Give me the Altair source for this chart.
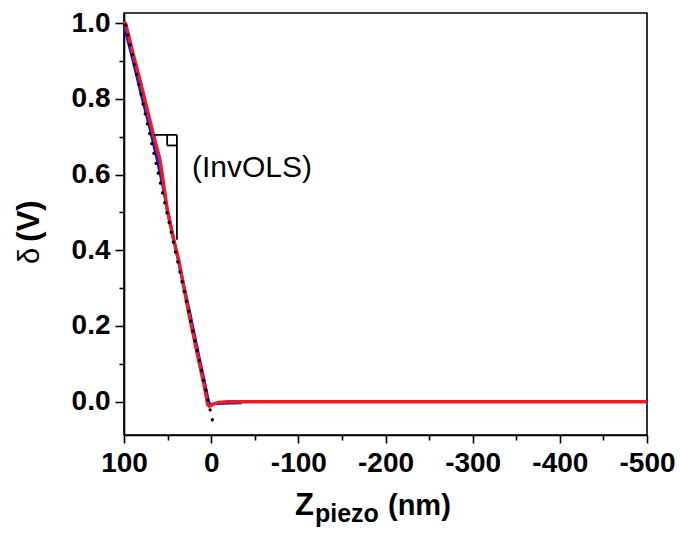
import altair as alt
import pandas as pd

# ---- data ----
red_x = [100, 98, 89, 81, 73.5, 66, 59, 56, 50.5, 43, 37, 31.5, 24, 16, 8.5, 4, 2, -3, -8, -20,
         -50, -100, -150, -200, -250, -300, -350, -400, -450, -500]
red_y = [1.005, 0.998, 0.914, 0.844, 0.774, 0.703, 0.642, 0.598, 0.508, 0.426, 0.373, 0.303, 0.215,
         0.127, 0.048, -0.008, -0.012, -0.006, -0.002, 0.0,
         0.0, 0.0, 0.0, 0.0, 0.0, 0.0, 0.0, 0.0, 0.0, 0.0]

blue_x = [100, 90, 80, 70, 62, 55, 50, 43, 35, 25, 15, 8, 3, 1, -5, -15, -35]
blue_y = [0.995, 0.905, 0.81, 0.72, 0.64, 0.565, 0.505, 0.43, 0.345, 0.24, 0.13, 0.055, 0.0,
          -0.008, -0.005, -0.004, -0.003]

fit_x = [98, -3.7]
fit_y = [0.995, -0.073]

# annotation triangle segments (x, y, x2, y2)
tri_x = [66, 39.3, 50.5, 50.5]
tri_y = [0.705, 0.705, 0.705, 0.677]
tri_x2 = [39.3, 39.3, 50.5, 39.3]
tri_y2 = [0.705, 0.428, 0.677, 0.677]

note_text = ["(InvOLS)"]
note_x = [22]
note_y = [0.617]

x_ticks = [100, 50, 0, -50, -100, -150, -200, -250, -300, -350, -400, -450, -500]
y_ticks = [0.0, 0.1, 0.2, 0.3, 0.4, 0.5, 0.6, 0.7, 0.8, 0.9, 1.0]

W, H = 523, 422
FONT = "Liberation Sans"

red = pd.DataFrame({"x": red_x, "y": red_y})
blue = pd.DataFrame({"x": blue_x, "y": blue_y})
fit = pd.DataFrame({"x": fit_x, "y": fit_y})
tri = pd.DataFrame({"x": tri_x, "y": tri_y, "x2": tri_x2, "y2": tri_y2})
note = pd.DataFrame({"x": note_x, "y": note_y, "t": note_text})
one = pd.DataFrame({"a": [0]})

xscale = alt.Scale(domain=[-500, 100], reverse=True, nice=False, zero=False)
yscale = alt.Scale(domain=[-0.088, 1.027], nice=False, zero=False)

xaxis = alt.Axis(
    values=x_ticks, title=None, grid=False,
    labelExpr="datum.value % 100 === 0 ? '' + datum.value : ''",
    tickSize={"condition": {"test": "datum.value % 100 === 0", "value": 8}, "value": 5},
    labelFont=FONT, labelFontWeight="bold", labelFontSize=28, labelColor="black",
    labelPadding=6, labelFlush=False, labelOverlap=False,
    domainColor="black", domainWidth=1.6, tickColor="black", tickWidth=1.6,
)
yaxis = alt.Axis(
    values=y_ticks, title=None, grid=False,
    labelExpr="round(datum.value * 10) % 2 === 0 ? format(datum.value, '.1f') : ''",
    tickSize={"condition": {"test": "round(datum.value * 10) % 2 === 0", "value": 9}, "value": 5},
    labelFont=FONT, labelFontWeight="bold", labelFontSize=28, labelColor="black",
    labelPadding=5, labelOverlap=False,
    domainColor="black", domainWidth=1.6, tickColor="black", tickWidth=1.6,
)

X = alt.X("x:Q", scale=xscale, axis=xaxis)
Y = alt.Y("y:Q", scale=yscale, axis=yaxis)

blue_line = alt.Chart(blue).mark_line(color="#1414e6", strokeWidth=3).encode(x=X, y=Y)
red_line = alt.Chart(red).mark_line(color="#ec1c24", strokeWidth=3.4).encode(x="x:Q", y="y:Q")
fit_line = alt.Chart(fit).mark_line(
    color="black", strokeWidth=3.2, strokeDash=[0.1, 10], strokeCap="round"
).encode(x="x:Q", y="y:Q")

tri_rules = alt.Chart(tri).mark_rule(color="black", strokeWidth=1.8).encode(
    x="x:Q", y="y:Q", x2="x2:Q", y2="y2:Q"
)
note_txt = alt.Chart(note).mark_text(
    font=FONT, fontSize=30, align="left", baseline="middle", color="black"
).encode(x="x:Q", y="y:Q", text="t:N")

# axis titles (with subscript / mixed weight)
z_t = alt.Chart(one).mark_text(text="Z", font=FONT, fontWeight="bold", fontSize=31,
                               align="left", baseline="alphabetic", color="black").encode(
    x=alt.value(171), y=alt.value(502))
sub_t = alt.Chart(one).mark_text(text="piezo", font=FONT, fontWeight="bold", fontSize=25,
                                 align="left", baseline="alphabetic", color="black").encode(
    x=alt.value(191), y=alt.value(509))
nm_t = alt.Chart(one).mark_text(text="(nm)", font=FONT, fontWeight="bold", fontSize=29,
                                align="left", baseline="alphabetic", color="black").encode(
    x=alt.value(264), y=alt.value(502))
delta_t = alt.Chart(one).mark_text(text="δ", font=FONT, fontSize=29, angle=270,
                                   align="center", baseline="middle", color="black").encode(
    x=alt.value(-94.5), y=alt.value(243))
v_t = alt.Chart(one).mark_text(text="(V)", font=FONT, fontWeight="bold", fontSize=31, angle=270,
                               align="center", baseline="middle", color="black").encode(
    x=alt.value(-94.5), y=alt.value(208))

chart = alt.layer(
    blue_line, red_line, fit_line, tri_rules, note_txt, z_t, sub_t, nm_t, delta_t, v_t
).properties(
    width=W, height=H,
    autosize=alt.AutoSizeParams(type="none"),
    padding={"left": 124, "top": 13, "right": 33, "bottom": 98},
    background="white",
).configure_view(stroke="black", strokeWidth=1.6)

chart.save("out.html", embed_options={"renderer": "svg", "actions": False})
